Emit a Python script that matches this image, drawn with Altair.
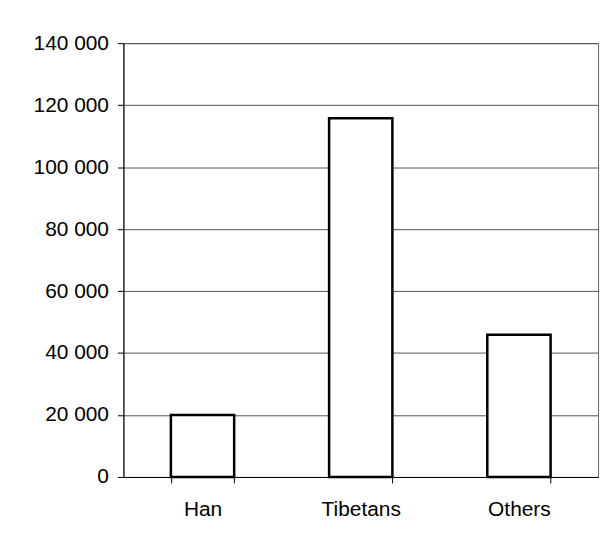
import altair as alt
import pandas as pd

categories = ["Han", "Tibetans", "Others"]
values = [20000, 115800, 45900]
y_ticks = [0, 20000, 40000, 60000, 80000, 100000, 120000, 140000]

df = pd.DataFrame({"group": categories, "population": values})

chart = alt.Chart(df).mark_bar(fill="white", stroke="black", strokeWidth=2.5).encode(
    x=alt.X(
        "group:N",
        sort=categories,
        title=None,
        scale=alt.Scale(paddingInner=0.6, paddingOuter=0.3),
        axis=alt.Axis(
            labelAngle=0,
            labelFont="Liberation Sans",
            labelFontSize=21,
            labelColor="black",
            domainColor="black",
            tickColor="black",
            tickSize=6,
            tickBand="extent",
            labelPadding=16,
            grid=False,
        ),
    ),
    y=alt.Y(
        "population:Q",
        title=None,
        scale=alt.Scale(domain=[0, 140000], nice=False),
        axis=alt.Axis(
            values=y_ticks,
            labelExpr="replace(format(datum.value, ','), ',', ' ')",
            labelFont="Liberation Sans",
            labelFontSize=21,
            labelColor="black",
            domainColor="black",
            tickColor="black",
            tickSize=6,
            labelPadding=9,
            grid=True,
            gridColor="#555555",
            gridWidth=1,
        ),
    ),
).properties(
    width=477,
    height=436,
    autosize=alt.AutoSizeParams(type="none"),
    padding={"left": 116, "top": 34, "right": 10, "bottom": 60},
).configure_view(stroke="#666666", strokeWidth=1)

chart.save("out.html", embed_options={"renderer": "svg", "actions": False})
